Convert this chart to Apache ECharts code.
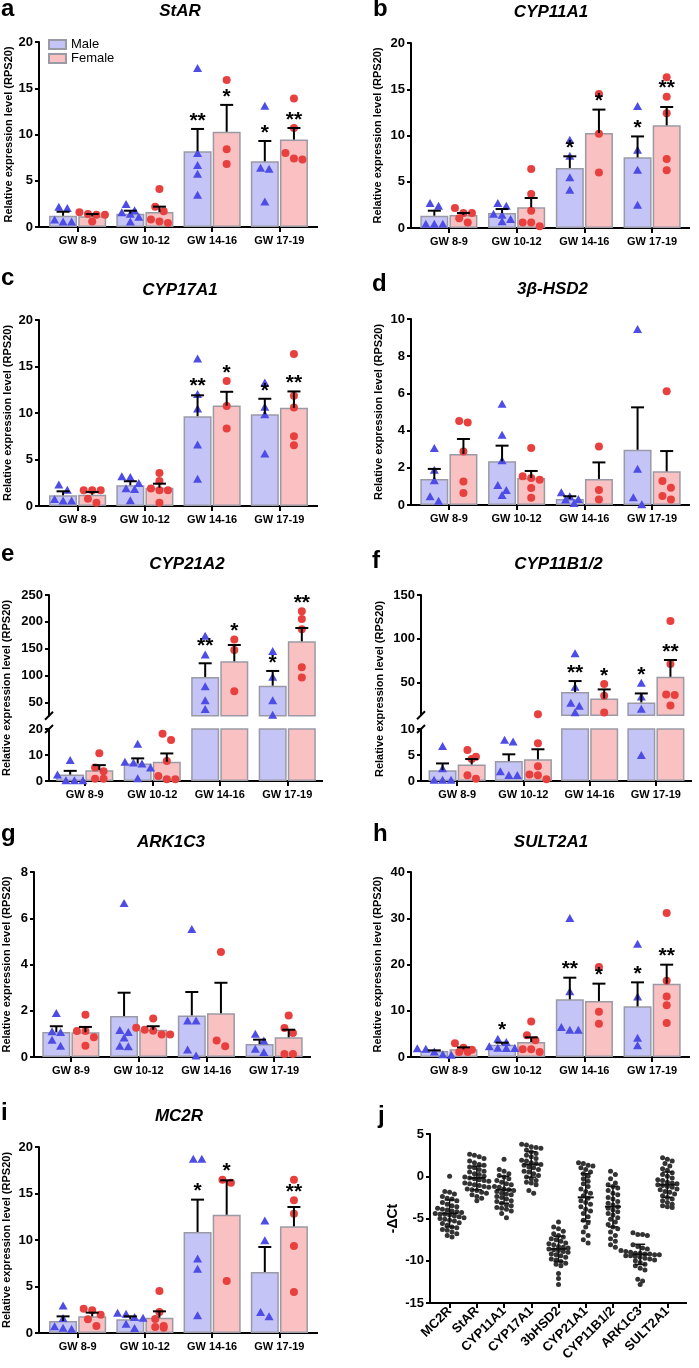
<!DOCTYPE html>
<html><head><meta charset="utf-8">
<script src="https://cdn.jsdelivr.net/npm/echarts@6/dist/echarts.min.js"></script>
<style>html,body{margin:0;padding:0;background:#fff}#c{width:699px;height:1368px}</style>
</head><body><div id="c"></div>
<script>
// ---------------- DATA ----------------
const groups = ['GW 8-9', 'GW 10-12', 'GW 14-16', 'GW 17-19'];
const legendNames = ['Male', 'Female'];

// a  StAR
const aTitle = 'StAR';
const aTicks = [0, 5, 10, 15, 20];
const aMaleMean = [1.22, 1.44, 8.2, 7.1];
const aMaleErr = [1.65, 1.76, 10.6, 9.3];
const aFemaleMean = [1.15, 1.62, 10.3, 9.45];
const aFemaleErr = [1.4, 2.2, 13.2, 10.7];
const aMalePts = [[2.2, 2.05, 0.8, 0.6, 0.6], [2.5, 1.8, 1.6, 1.44, 1.1, 0.6], [17.2, 8.0, 6.7, 5.75, 3.5], [13.1, 6.4, 6.3, 2.75]];
const aFemalePts = [[1.6, 1.4, 1.33, 1.33, 0.6], [4.1, 2.2, 1.7, 0.8, 0.6, 0.43], [15.9, 8.4, 6.8], [13.9, 10.7, 8.0, 7.4, 7.3]];
const aMaleStars = ['', '', '**', '*'];
const aFemaleStars = ['', '', '*', '**'];

// b  CYP11A1
const bTitle = 'CYP11A1';
const bTicks = [0, 5, 10, 15, 20];
const bMaleMean = [1.33, 1.62, 6.49, 7.64];
const bMaleErr = [1.87, 2.05, 7.75, 9.9];
const bFemaleMean = [1.4, 2.23, 10.27, 11.1];
const bFemaleErr = [1.62, 3.24, 12.8, 13.08];
const bMalePts = [[2.7, 2.4, 0.47, 0.47, 0.47], [2.7, 2.4, 1.55, 1.44, 0.97, 0.72], [9.55, 7.8, 5.5, 4.14], [13.2, 8.47, 6.3, 2.52]];
const bFemalePts = [[2.16, 1.62, 1.62, 1.05, 0.6], [6.38, 3.68, 1.87, 0.6, 0.6, 0.18], [14.5, 10.2, 6.0], [16.3, 14.2, 12.4, 7.46, 6.23]];
const bMaleStars = ['', '', '*', '*'];
const bFemaleStars = ['', '', '*', '**'];

// c  CYP17A1
const cTitle = 'CYP17A1';
const cTicks = [0, 5, 10, 15, 20];
const cMaleMean = [1.15, 2.23, 9.66, 9.87];
const cMaleErr = [1.58, 2.66, 11.9, 11.53];
const cFemaleMean = [1.22, 1.97, 10.8, 10.56];
const cFemaleErr = [1.5, 2.4, 12.28, 12.32];
const cMalePts = [[2.3, 1.76, 0.75, 0.6, 0.6], [3.2, 3.12, 2.48, 1.9, 1.83, 0.61], [15.87, 12.03, 10.48, 6.6, 2.94], [13.29, 10.66, 9.87, 5.64]];
const cFemalePts = [[1.69, 1.69, 1.69, 0.79, 0.36], [3.55, 2.69, 1.87, 1.69, 1.69, 0.36], [13.43, 10.74, 8.33], [16.34, 11.85, 10.6, 7.5, 6.54]];
const cMaleStars = ['', '', '**', '*'];
const cFemaleStars = ['', '', '*', '**'];

// d  3β-HSD2
const dTitle = '3β-HSD2';
const dTicks = [0, 2, 4, 6, 8, 10];
const dMaleMean = [1.4, 2.35, 0.32, 2.97];
const dMaleErr = [1.94, 3.19, 0.47, 5.25];
const dFemaleMean = [2.74, 1.45, 1.4, 1.81];
const dFemaleErr = [3.55, 1.83, 2.29, 2.9];
const dMalePts = [[3.06, 1.9, 1.33, 0.47, 0.23], [5.45, 3.78, 2.4, 1.08, 0.8, 0.54], [0.68, 0.47, 0.32, 0.29, 0.11], [9.46, 1.95, 0.41, 0.04]];
const dFemalePts = [[4.52, 4.44, 2.88, 1.27, 0.65], [3.06, 1.54, 1.45, 1.36, 0.91, 0.39], [3.15, 0.8, 0.29], [6.11, 1.29, 0.93, 0.48, 0.29]];
const dMaleStars = ['', '', '', ''];
const dFemaleStars = ['', '', '', ''];

// e  CYP21A2 (broken axis)
const eTitle = 'CYP21A2';
const eTicksUpper = [50, 100, 150, 200, 250];
const eTicksLower = [0, 10, 20];
const eMaleMean = [2.47, 6.75, 97.2, 81];
const eMaleErr = [3.9, 8.7, 122.7, 108.4];
const eFemaleMean = [4.16, 7.4, 126.4, 163.7];
const eFemaleErr = [6.1, 10.6, 156.8, 188.5];
const eMalePts = [[8.05, 2.47, 0.26, 0.26, 0.26], [14.3, 7.4, 7.1, 6.7, 5.2, 1.1], [174, 139, 80, 53.7, 37.6], [145.6, 97.8, 53.7, 27]];
const eFemalePts = [[10.65, 5.2, 3.77, 0.9, 0.9], [18.2, 15.8, 7.66, 1.95, 0.65, 0.65], [167, 147.5, 70.5], [219.6, 205.3, 186, 115.2, 96]];
const eMaleStars = ['', '', '**', '*'];
const eFemaleStars = ['', '', '*', '**'];

// f  CYP11B1/2 (broken axis)
const fTitle = 'CYP11B1/2';
const fTicksUpper = [50, 100, 150];
const fTicksLower = [0, 5, 10];
const fMaleMean = [2.08, 3.83, 39.4, 27.6];
const fMaleErr = [3.38, 5.13, 51.9, 37.8];
const fFemaleMean = [3.18, 4.16, 32.1, 56.8];
const fFemaleErr = [4.22, 6.1, 42.4, 75.9];
const fMalePts = [[6.75, 2.47, 0.26, 0.26, 0.26], [7.92, 7.6, 1.88, 1.17, 1.17], [83.5, 45.4, 27.2, 23.8, 16.5], [50, 34.4, 20.3, 5.0]];
const fFemalePts = [[5.97, 4.68, 4.22, 1.1, 0.45], [14.2, 7.27, 2.86, 1.23, 1.1, 0.32], [48.5, 35.2, 16.2], [120.3, 71.3, 36.7, 35.9, 24.1]];
const fMaleStars = ['', '', '**', '*'];
const fFemaleStars = ['', '', '*', '**'];

// g  ARK1C3
const gTitle = 'ARK1C3';
const gTicks = [0, 2, 4, 6, 8];
const gMaleMean = [1.08, 1.77, 1.8, 0.56];
const gMaleErr = [1.33, 2.78, 2.81, 0.75];
const gFemaleMean = [1.07, 1.18, 1.89, 0.85];
const gFemaleErr = [1.3, 1.33, 3.21, 1.18];
const gMalePts = [[1.9, 1.11, 1.08, 0.75, 0.49], [6.66, 1.17, 1.08, 0.84, 0.49, 0.46], [5.53, 1.58, 1.58, 0.32, 0.06], [1.01, 0.71, 0.36, 0.22]];
const gFemalePts = [[1.83, 1.12, 1.12, 0.85, 0.49], [1.67, 1.27, 1.18, 1.14, 0.97, 0.97], [4.54, 0.71, 0.46], [1.79, 1.25, 1.04, 0.13, 0.13]];
const gMaleStars = ['', '', '', ''];
const gFemaleStars = ['', '', '', ''];

// h  SULT2A1
const hTitle = 'SULT2A1';
const hTicks = [0, 10, 20, 30, 40];
const hMaleMean = [1.3, 2.67, 12.47, 10.95];
const hMaleErr = [1.44, 3.1, 17.15, 16.14];
const hFemaleMean = [1.66, 3.24, 12.1, 15.86];
const hFemaleErr = [2.09, 4.25, 15.86, 19.96];
const hMalePts = [[1.9, 1.8, 1.2, 0.6, 0.5], [3.96, 3.24, 2.3, 2.0, 1.95, 1.95], [30.05, 14.2, 6.49, 5.9, 5.9], [24.5, 13.1, 4.18, 2.52]];
const hFemalePts = [[3.0, 2.0, 1.58, 1.08, 1.08], [7.7, 4.68, 3.6, 1.66, 1.66, 1.08], [19.46, 9.8, 7.2], [31.13, 16.5, 13.1, 11.17, 7.35]];
const hMaleStars = ['', '*', '**', '*'];
const hFemaleStars = ['', '', '*', '**'];

// i  MC2R
const iTitle = 'MC2R';
const iTicks = [0, 5, 10, 15, 20];
const iMaleMean = [1.29, 1.47, 10.86, 6.56];
const iMaleErr = [1.79, 1.79, 14.34, 9.25];
const iFemaleMean = [1.79, 1.65, 12.72, 11.47];
const iFemaleErr = [2.19, 2.33, 16.42, 13.55];
const iMalePts = [[2.97, 1.61, 0.72, 0.57, 0.47], [2.19, 2.08, 1.72, 1.65, 1.0, 0.54], [18.75, 18.75, 8.0, 6.92, 1.9], [12.1, 9.96, 2.26, 1.79]];
const iFemalePts = [[2.62, 2.44, 1.97, 1.47, 0.75], [4.52, 2.26, 1.5, 0.75, 0.65, 0.57], [16.49, 16.16, 5.59], [16.49, 14.27, 12.83, 9.35, 4.41]];
const iMaleStars = ['', '', '*', ''];
const iFemaleStars = ['', '', '*', '**'];

// j  -ΔCt scatter
const jGenes = ['MC2R', 'StAR', 'CYP11A1', 'CYP17A1', '3bHSD2', 'CYP21A1', 'CYP11B1/2', 'ARK1C3', 'SULT2A1'];
const jTicks = [-15, -10, -5, 0, 5];
const jMC2R = [0, -1.8, -1.9, -2.1, -2.4, -2.6, -2.7, -2.9, -3.1, -3.3, -3.5, -3.6, -3.8, -3.9, -4.0, -4.1, -4.2, -4.3, -4.4, -4.5, -4.5, -4.6, -4.7, -4.8, -4.9, -5.0, -5.1, -5.2, -5.3, -5.5, -5.6, -5.8, -6.0, -6.1, -6.3, -6.4, -6.6, -6.8, -7.0, -7.2];
const jStAR = [2.6, 2.5, 2.3, 2.1, 1.8, 1.6, 1.4, 1.3, 1.1, 1.0, 0.8, 0.6, 0.5, 0.3, 0.2, 0.0, -0.1, -0.2, -0.3, -0.4, -0.5, -0.6, -0.8, -0.9, -1.0, -1.1, -1.2, -1.3, -1.5, -1.6, -1.7, -1.9, -2.0, -2.2, -2.4, -2.6, -2.9];
const jCYP11A1 = [2.0, 0.8, 0.6, 0.3, 0.1, -0.1, -0.3, -0.5, -0.7, -0.9, -1.0, -1.2, -1.3, -1.5, -1.6, -1.7, -1.8, -2.0, -2.1, -2.2, -2.4, -2.5, -2.7, -2.9, -3.0, -3.2, -3.4, -3.5, -3.7, -3.8, -3.9, -4.1, -4.4, -4.9];
const jCYP17A1 = [3.8, 3.7, 3.5, 3.4, 3.3, 3.1, 2.9, 2.7, 2.5, 2.3, 2.1, 1.9, 1.8, 1.6, 1.5, 1.4, 1.3, 1.1, 1.0, 0.8, 0.6, 0.5, 0.3, 0.1, -0.1, -0.3, -0.5, -0.7, -0.8, -1.0, -1.7, -2.0];
const j3bHSD2 = [-5.4, -6.0, -6.2, -6.5, -6.8, -7.0, -7.2, -7.4, -7.5, -7.7, -7.9, -8.0, -8.1, -8.3, -8.4, -8.5, -8.6, -8.7, -8.8, -8.9, -9.0, -9.2, -9.3, -9.4, -9.6, -9.8, -9.9, -10.1, -10.3, -10.4, -10.6, -11.5, -12.1, -12.8];
const jCYP21A1 = [1.6, 1.5, 1.3, 1.2, 1.0, 0.8, 0.5, 0.3, 0.0, -0.3, -0.6, -0.9, -1.2, -1.5, -1.8, -2.0, -2.3, -2.6, -2.9, -3.1, -3.3, -3.6, -3.9, -4.1, -4.4, -4.8, -5.2, -5.5, -6.0, -6.6, -7.0, -7.5, -7.9];
const jCYP11B12 = [0.6, 0.2, -0.3, -0.8, -1.0, -1.2, -1.4, -1.7, -2.0, -2.2, -2.5, -2.7, -3.0, -3.2, -3.4, -3.6, -3.8, -4.0, -4.2, -4.4, -4.6, -4.9, -5.1, -5.4, -5.7, -6.0, -6.2, -6.6, -7.0, -7.4, -7.7, -8.1, -8.4];
const jARK1C3 = [-6.7, -6.9, -6.9, -7.0, -8.1, -8.3, -8.5, -8.6, -8.8, -8.9, -9.0, -9.1, -9.1, -9.2, -9.2, -9.3, -9.3, -9.4, -9.4, -9.5, -9.6, -9.7, -9.8, -9.9, -10.0, -10.2, -10.4, -10.6, -10.9, -11.1, -12.2, -12.4, -12.8];
const jSULT2A1 = [2.2, 2.0, 1.8, 1.5, 1.2, 0.9, 0.7, 0.4, 0.2, 0.0, -0.2, -0.4, -0.5, -0.7, -0.8, -0.9, -1.0, -1.1, -1.2, -1.3, -1.5, -1.6, -1.8, -1.9, -2.1, -2.3, -2.5, -2.7, -2.9, -3.1, -3.3, -3.5, -3.6, -3.7];
const jMean = [-4.4, -0.2, -1.6, 1.4, -8.6, -2.5, -3.6, -9.25, -1.0];
const jSD = [1.6, 1.4, 1.6, 1.5, 1.5, 2.8, 2.4, 1.2, 1.5];

// ---------------- STYLE / LAYOUT ----------------
const FONT = '"Liberation Sans", Arial, Helvetica, sans-serif';
const MALE_FILL = '#c4c4f7', FEMALE_FILL = '#f9c1c1', BAR_BORDER = '#9a9aa6';
const MALE_PT = '#4d4de6', FEMALE_PT = '#e8403e';
const BAR_W = 28, BAR_GAP = 0.04;
const HALF = BAR_W * (1 + BAR_GAP) / 2;
const YNAME = 'Relative expression level (RPS20)';

const panels = [
  {letter: 'a', title: aTitle, mm: aMaleMean, me: aMaleErr, fm: aFemaleMean, fe: aFemaleErr, mp: aMalePts, fp: aFemalePts, ms: aMaleStars, fs: aFemaleStars,
   L: {gl: 44, gw: 269, ext: 5, nameGap: 25, tx: 180, ty: 11.5, lx: 1, ly: 9.6, segs: [{top: 42, bottom: 227, min: 0, ticks: aTicks}]}},
  {letter: 'b', title: bTitle, mm: bMaleMean, me: bMaleErr, fm: bFemaleMean, fe: bFemaleErr, mp: bMalePts, fp: bFemalePts, ms: bMaleStars, fs: bFemaleStars,
   L: {gl: 415, gw: 271, ext: 4, nameGap: 28, tx: 551, ty: 12.7, lx: 373, ly: 9.6, segs: [{top: 43, bottom: 228, min: 0, ticks: bTicks}]}},
  {letter: 'c', title: cTitle, mm: cMaleMean, me: cMaleErr, fm: cFemaleMean, fe: cFemaleErr, mp: cMalePts, fp: cFemalePts, ms: cMaleStars, fs: cFemaleStars,
   L: {gl: 44, gw: 269, ext: 5, nameGap: 26, tx: 180, ty: 290.5, lx: 1, ly: 278.6, segs: [{top: 320, bottom: 506, min: 0, ticks: cTicks}]}},
  {letter: 'd', title: dTitle, mm: dMaleMean, me: dMaleErr, fm: dFemaleMean, fe: dFemaleErr, mp: dMalePts, fp: dFemalePts, ms: dMaleStars, fs: dFemaleStars,
   L: {gl: 415, gw: 271, ext: 4, nameGap: 27, tx: 552.5, ty: 289.5, lx: 372, ly: 284.6, segs: [{top: 319, bottom: 505, min: 0, ticks: dTicks}]}},
  {letter: 'e', title: eTitle, mm: eMaleMean, me: eMaleErr, fm: eFemaleMean, fe: eFemaleErr, mp: eMalePts, fp: eFemalePts, ms: eMaleStars, fs: eFemaleStars,
   L: {gl: 51, gw: 270, ext: 2, nameX: 6.5, nameY: 688, tx: 187, ty: 564, lx: 1, ly: 554.6,
       segs: [{top: 595, bottom: 715.7, min: 25, max: 250, ticks: eTicksUpper, custom: true}, {top: 729, bottom: 781, min: 0, ticks: eTicksLower, custom: true}]}},
  {letter: 'f', title: fTitle, mm: fMaleMean, me: fMaleErr, fm: fFemaleMean, fe: fFemaleErr, mp: fMalePts, fp: fFemalePts, ms: fMaleStars, fs: fFemaleStars,
   L: {gl: 424, gw: 265, ext: 3, nameX: 380, nameY: 689, tx: 558.5, ty: 564.5, lx: 372, ly: 561.6,
       segs: [{top: 595, bottom: 715.2, min: 13, max: 150, ticks: fTicksUpper, custom: true}, {top: 729, bottom: 781, min: 0, ticks: fTicksLower, custom: true}]}},
  {letter: 'g', title: gTitle, mm: gMaleMean, me: gMaleErr, fm: gFemaleMean, fe: gFemaleErr, mp: gMalePts, fp: gFemalePts, ms: gMaleStars, fs: gFemaleStars,
   L: {gl: 36, gw: 272, ext: 3, nameGap: 22, tx: 171, ty: 842.5, lx: 1, ly: 834.6, segs: [{top: 872, bottom: 1057, min: 0, ticks: gTicks}]}},
  {letter: 'h', title: hTitle, mm: hMaleMean, me: hMaleErr, fm: hFemaleMean, fe: hFemaleErr, mp: hMalePts, fp: hFemalePts, ms: hMaleStars, fs: hFemaleStars,
   L: {gl: 415, gw: 271, ext: 4, nameGap: 28, tx: 551, ty: 842.5, lx: 373, ly: 834.6, segs: [{top: 872, bottom: 1057, min: 0, ticks: hTicks}]}},
  {letter: 'i', title: iTitle, mm: iMaleMean, me: iMaleErr, fm: iFemaleMean, fe: iFemaleErr, mp: iMalePts, fp: iFemalePts, ms: iMaleStars, fs: iFemaleStars,
   L: {gl: 44, gw: 269, ext: 5, nameGap: 27, tx: 179, ty: 1116, lx: 1, ly: 1113.6, segs: [{top: 1147, bottom: 1333, min: 0, ticks: iTicks}]}}
];

const option = {
  animation: false, backgroundColor: '#ffffff',
  title: [], grid: [], xAxis: [], yAxis: [], series: [], graphic: [],
  legend: {
    left: 48, top: 38, orient: 'vertical', padding: 0, itemGap: 1, itemWidth: 17, itemHeight: 9,
    icon: 'rect', data: legendNames, selectedMode: false,
    textStyle: {fontSize: 13, color: '#000', fontFamily: FONT}
  }
};

function jitter(vals, pxPerUnit, thresh, spacing) {
  const idx = vals.map((v, i) => i).sort((a, b) => vals[b] - vals[a]);
  const off = new Array(vals.length).fill(0);
  let i = 0;
  while (i < idx.length) {
    const row = [idx[i]];
    let j = i + 1;
    while (j < idx.length && (vals[idx[i]] - vals[idx[j]]) * pxPerUnit < thresh) { row.push(idx[j]); j++; }
    row.forEach((k, r) => { off[k] = (r - (row.length - 1) / 2) * spacing; });
    i = j;
  }
  return off;
}

function axisLineCfg(ext) {
  const c = {show: true, onZero: false, lineStyle: {color: '#000', width: 2}};
  if (ext > 0) { c.symbol = ['rect', 'rect']; c.symbolSize = [2, 2 * ext]; }
  return c;
}

function addTitle(text, x, y, size, italic) {
  option.title.push({
    text: text, left: x, top: y, padding: 0, textAlign: italic ? 'center' : 'left', textVerticalAlign: 'middle',
    textStyle: {fontSize: size, fontWeight: 'bold', fontStyle: italic ? 'italic' : 'normal', fontFamily: FONT, color: '#000'}
  });
}

// error bar (mean -> mean+SEM) with significance stars lifted above any marker sitting just over the cap
function errRender(offset, stars, pts) {
  return function (params, api) {
    const ci = api.value(0);
    const p0 = api.coord([ci, api.value(1)]);
    const p1 = api.coord([ci, api.value(2)]);
    const x = p0[0] + offset;
    const children = [
      {type: 'line', shape: {x1: x, y1: p0[1], x2: x, y2: p1[1]}, style: {stroke: '#000', lineWidth: 2}},
      {type: 'line', shape: {x1: x - 6.5, y1: p1[1], x2: x + 6.5, y2: p1[1]}, style: {stroke: '#000', lineWidth: 2}}
    ];
    const s = stars[ci];
    if (s) {
      let base = p1[1];
      const ys = (pts[ci] || []).map(v => api.coord([ci, v])[1]).filter(y => y < base).sort((a, b) => b - a);
      for (const y of ys) { if (base - y <= 12) base = y; else break; }
      children.push({type: 'text', style: {text: s, x: x, y: base - 8, align: 'center', verticalAlign: 'middle',
        font: 'bold 21px ' + FONT, fill: '#000'}});
    }
    return {type: 'group', children: children};
  };
}

panels.forEach((P, pi) => {
  const L = P.L;
  addTitle(P.letter, L.lx, L.ly, 24, false);
  addTitle(P.title, L.tx, L.ty, 17, true);
  const nseg = L.segs.length;
  L.segs.forEach((s, si) => {
    const gi = option.grid.length;
    const isBottom = si === nseg - 1;
    const max = s.max != null ? s.max : s.ticks[s.ticks.length - 1];
    const h = s.bottom - s.top;
    const ppu = h / (max - s.min);
    option.grid.push({left: L.gl, top: s.top, width: L.gw, height: h});
    option.xAxis.push({
      type: 'category', gridIndex: gi, data: groups, show: isBottom,
      axisLine: axisLineCfg(L.ext),
      axisTick: {show: true, alignWithLabel: true, length: 5, lineStyle: {color: '#000', width: 2}},
      axisLabel: {interval: 0, color: '#000', fontWeight: 'bold', fontSize: 11, fontFamily: FONT, margin: 8}
    });
    const yAx = {
      type: 'value', gridIndex: gi, min: s.min, max: max, offset: L.ext,
      axisLine: {show: true, lineStyle: {color: '#000', width: 2}},
      axisTick: {show: true, length: 4, lineStyle: {color: '#000', width: 2}},
      axisLabel: {color: '#000', fontWeight: 'bold', fontSize: 13, fontFamily: FONT, margin: 6},
      splitLine: {show: false}
    };
    if (s.custom) { yAx.axisLabel.customValues = s.ticks; yAx.axisTick.customValues = s.ticks; }
    else { yAx.interval = s.ticks[1] - s.ticks[0]; }
    if (nseg === 1) {
      yAx.name = YNAME; yAx.nameLocation = 'middle'; yAx.nameGap = L.nameGap; yAx.nameRotate = 90;
      yAx.nameTextStyle = {fontSize: 11, fontWeight: 'bold', fontFamily: FONT, color: '#000'};
    }
    option.yAxis.push(yAx);

    const first = pi === 0;
    option.series.push({type: 'bar', name: first ? 'Male' : 'Male-' + P.letter + si, xAxisIndex: gi, yAxisIndex: gi,
      data: P.mm, barWidth: BAR_W, barGap: (BAR_GAP * 100) + '%', silent: true, z: 2,
      itemStyle: {color: MALE_FILL, borderColor: BAR_BORDER, borderWidth: 1.5}});
    option.series.push({type: 'bar', name: first ? 'Female' : 'Female-' + P.letter + si, xAxisIndex: gi, yAxisIndex: gi,
      data: P.fm, barWidth: BAR_W, barGap: (BAR_GAP * 100) + '%', silent: true, z: 2,
      itemStyle: {color: FEMALE_FILL, borderColor: BAR_BORDER, borderWidth: 1.5}});

    const inSeg = v => v >= s.min && v <= max;
    [[P.mp, -HALF, 'triangle', [9, 8], MALE_PT], [P.fp, HALF, 'circle', 8, FEMALE_PT]].forEach(cfg => {
      const data = [];
      cfg[0].forEach((vals, ci) => {
        const sub = vals.filter(inSeg);
        const off = jitter(sub, ppu, 7, 8.5);
        sub.forEach((v, k) => data.push({value: [ci, v], symbolOffset: [cfg[1] + off[k], 0]}));
      });
      option.series.push({type: 'scatter', xAxisIndex: gi, yAxisIndex: gi, symbol: cfg[2], symbolSize: cfg[3],
        itemStyle: {color: cfg[4], opacity: 1}, data: data, silent: true, z: 3});
    });

    [[P.mm, P.me, P.ms, -HALF, P.mp], [P.fm, P.fe, P.fs, HALF, P.fp]].forEach(cfg => {
      const data = [];
      cfg[0].forEach((m, ci) => { if (inSeg(m)) data.push([ci, m, cfg[1][ci]]); });
      option.series.push({type: 'custom', xAxisIndex: gi, yAxisIndex: gi, data: data, silent: true, z: 4,
        renderItem: errRender(cfg[3], cfg[2], cfg[4])});
    });
  });

  if (nseg > 1) {
    const ax = L.gl - L.ext;
    const yb = L.segs[0].bottom, yt = L.segs[1].top;
    [yb, yt].forEach(y => option.graphic.push({type: 'line', silent: true,
      shape: {x1: ax - 4, y1: y + 4, x2: ax + 4, y2: y - 4}, style: {stroke: '#000', lineWidth: 2}}));
    option.graphic.push({type: 'text', x: L.nameX, y: L.nameY, rotation: Math.PI / 2, silent: true,
      style: {text: YNAME, align: 'center', verticalAlign: 'middle', textAlign: 'center', textVerticalAlign: 'middle',
        font: 'bold 11px ' + FONT, fill: '#000'}});
  }
});

// ---- panel j ----
(function () {
  addTitle('j', 378, 1116.6, 24, false);
  const gi = option.grid.length;
  const top = 1134, bottom = 1303, gl = 436, gw = 245, ext = 6;
  const ppu = (bottom - top) / (jTicks[jTicks.length - 1] - jTicks[0]);
  option.grid.push({left: gl, top: top, width: gw, height: bottom - top});
  option.xAxis.push({
    type: 'category', gridIndex: gi, data: jGenes,
    axisLine: axisLineCfg(ext),
    axisTick: {show: true, alignWithLabel: true, length: 5, lineStyle: {color: '#000', width: 2}},
    axisLabel: {interval: 0, rotate: 45, color: '#000', fontWeight: 'bold', fontSize: 13, fontFamily: FONT, margin: 6}
  });
  option.yAxis.push({
    type: 'value', gridIndex: gi, min: jTicks[0], max: jTicks[jTicks.length - 1], interval: jTicks[1] - jTicks[0], offset: ext,
    name: '-ΔCt', nameLocation: 'middle', nameGap: 30, nameRotate: 90,
    nameTextStyle: {fontSize: 14, fontWeight: 'bold', fontFamily: FONT, color: '#000'},
    axisLine: {show: true, lineStyle: {color: '#000', width: 2}},
    axisTick: {show: true, length: 4, lineStyle: {color: '#000', width: 2}},
    axisLabel: {color: '#000', fontWeight: 'bold', fontSize: 13, fontFamily: FONT, margin: 6},
    splitLine: {show: false}
  });
  const lists = [jMC2R, jStAR, jCYP11A1, jCYP17A1, j3bHSD2, jCYP21A1, jCYP11B12, jARK1C3, jSULT2A1];
  const data = [];
  lists.forEach((vals, ci) => {
    const off = jitter(vals, ppu, 5, 4.8);
    vals.forEach((v, k) => data.push({value: [ci, v], symbolOffset: [off[k], 0]}));
  });
  option.series.push({type: 'scatter', xAxisIndex: gi, yAxisIndex: gi, symbol: 'circle', symbolSize: 5,
    itemStyle: {color: '#333', opacity: 1}, data: data, silent: true, z: 3});
  option.series.push({type: 'custom', xAxisIndex: gi, yAxisIndex: gi, silent: true, z: 4,
    data: jMean.map((m, i) => [i, m, jSD[i]]),
    renderItem: function (params, api) {
      const i = api.value(0), m = api.value(1), sd = api.value(2);
      const pm = api.coord([i, m]), pt = api.coord([i, m + sd]), pb = api.coord([i, m - sd]);
      const x = pm[0];
      const st = {stroke: '#111', lineWidth: 1.5};
      return {type: 'group', children: [
        {type: 'line', shape: {x1: x - 8, y1: pm[1], x2: x + 8, y2: pm[1]}, style: {stroke: '#111', lineWidth: 2}},
        {type: 'line', shape: {x1: x, y1: pt[1], x2: x, y2: pb[1]}, style: st},
        {type: 'line', shape: {x1: x - 5, y1: pt[1], x2: x + 5, y2: pt[1]}, style: st},
        {type: 'line', shape: {x1: x - 5, y1: pb[1], x2: x + 5, y2: pb[1]}, style: st}
      ]};
    }});
})();

const chart = echarts.init(document.getElementById('c'), null, {renderer: 'canvas', width: 699, height: 1368});
chart.setOption(option);
</script></body></html>
